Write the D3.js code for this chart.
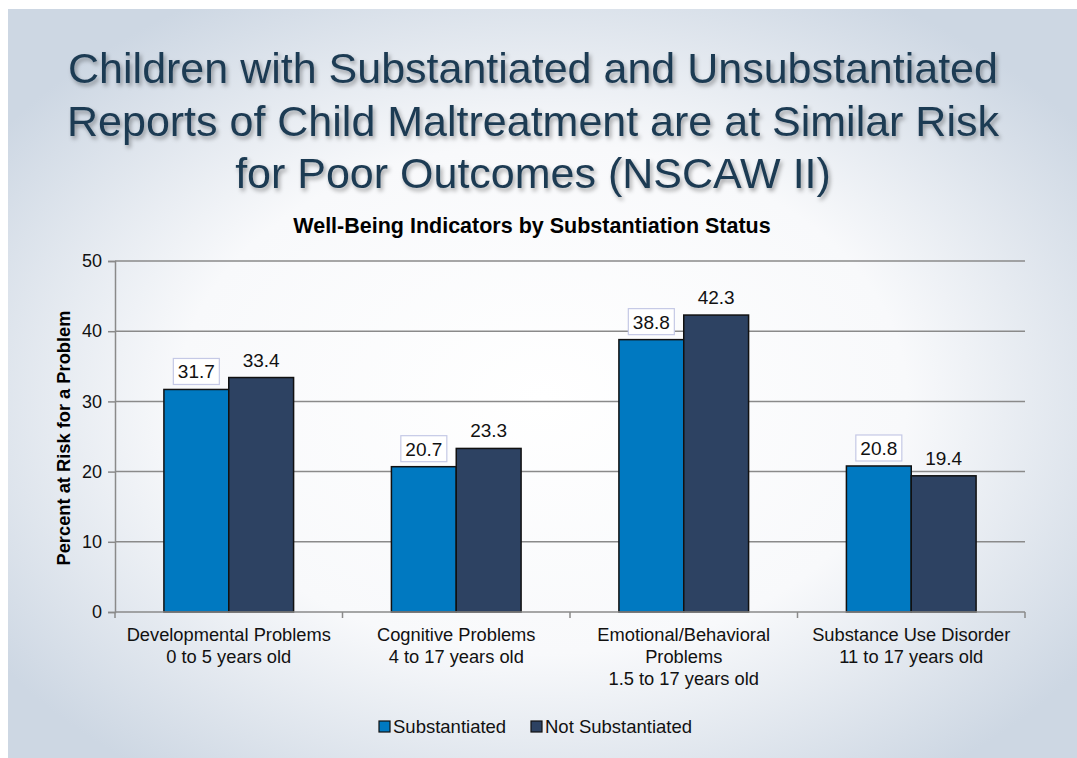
<!DOCTYPE html>
<html><head><meta charset="utf-8">
<script src="https://cdn.jsdelivr.net/npm/d3@7"></script>
<style>html,body{margin:0;padding:0;background:#fff;}svg{display:block;}</style>
</head><body>
<svg id="chart" width="1077" height="758"></svg>
<script>
const titleLines = ["Children with Substantiated and Unsubstantiated","Reports of Child Maltreatment are at Similar Risk","for Poor Outcomes (NSCAW II)"];
const chartTitle = "Well-Being Indicators by Substantiation Status";
const yLabel = "Percent at Risk for a Problem";
const categories = ["Developmental Problems|0 to 5 years old","Cognitive Problems|4 to 17 years old","Emotional/Behavioral|Problems|1.5 to 17 years old","Substance Use Disorder|11 to 17 years old"];
const seriesNames = ["Substantiated","Not Substantiated"];
const substantiated = [31.7, 20.7, 38.8, 20.8];
const notSubstantiated = [33.4, 23.3, 42.3, 19.4];
const yTicks = [0,10,20,30,40,50];
const colors = ["#0079c1","#2d4262"];
const FF = "'Liberation Sans', Arial, sans-serif";

const svg = d3.select("#chart");
const defs = svg.append("defs");
const rg = defs.append("radialGradient").attr("id","bg").attr("cx","50%").attr("cy","52%").attr("r","62%");
rg.append("stop").attr("offset","0%").attr("stop-color","#ffffff");
rg.append("stop").attr("offset","55%").attr("stop-color","#f8f9fb");
rg.append("stop").attr("offset","100%").attr("stop-color","#cdd7e3");
const f = defs.append("filter").attr("id","sh").attr("x","-5%").attr("y","-20%").attr("width","110%").attr("height","150%");
f.append("feDropShadow").attr("dx",2).attr("dy",3).attr("stdDeviation",2).attr("flood-color","#000").attr("flood-opacity",0.35);

svg.append("rect").attr("x",8).attr("y",9).attr("width",1069).attr("height",749).attr("fill","url(#bg)");

// main title
svg.append("g").attr("filter","url(#sh)").selectAll("text").data(titleLines).join("text")
  .attr("x",533).attr("y",(d,i)=>83+i*52.5).attr("text-anchor","middle")
  .attr("font-family",FF).attr("font-size",43)
  .attr("fill","#1d3a52").text(d=>d);

svg.append("text").attr("x",532).attr("y",233).attr("text-anchor","middle")
  .attr("font-family",FF).attr("font-size",21.5).attr("font-weight","bold")
  .attr("fill","#000").text(chartTitle);

const L=115, R=1025, T=261, B=612;
const x = d3.scaleBand().domain(categories).range([L,R]).paddingInner(0.43).paddingOuter(0.215);
const xs = d3.scaleBand().domain(seriesNames).range([0,x.bandwidth()]);
const y = d3.scaleLinear().domain([0,50]).range([B,T]);

// gridlines
svg.append("g").selectAll("line").data(yTicks.filter(d=>d>0)).join("line")
  .attr("x1",L).attr("x2",R).attr("y1",d=>y(d)).attr("y2",d=>y(d))
  .attr("stroke","#8a8a8a").attr("stroke-width",1.5);

// y axis
const ya = svg.append("g").attr("transform",`translate(${L},0)`).call(d3.axisLeft(y).tickValues(yTicks).tickSize(7).tickPadding(6));
ya.select(".domain").attr("stroke","#8a8a8a").attr("stroke-width",1.5);
ya.selectAll(".tick line").attr("stroke","#8a8a8a").attr("stroke-width",1.5);
ya.selectAll("text").attr("font-family",FF).attr("font-size",18).attr("fill","#111");

// bars
const data = categories.map((c,i)=>({c, vals:[substantiated[i], notSubstantiated[i]]}));
const groups = svg.append("g").selectAll("g").data(data).join("g").attr("transform",d=>`translate(${x(d.c)},0)`);
groups.selectAll("rect").data(d=>d.vals.map((v,j)=>({v,s:seriesNames[j],j}))).join("rect")
  .attr("x",d=>xs(d.s)).attr("width",xs.bandwidth()).attr("y",d=>y(d.v)).attr("height",d=>B-y(d.v))
  .attr("fill",d=>colors[d.j]).attr("stroke","#111").attr("stroke-width",1.5);

// x axis
const bounds = [0,1,2,3,4];
const xa = svg.append("g");
xa.append("line").attr("x1",L).attr("x2",R).attr("y1",B).attr("y2",B).attr("stroke","#8a8a8a").attr("stroke-width",1.5);
xa.selectAll("line.t").data(bounds).join("line").attr("class","t")
  .attr("x1",d=>L+d*(R-L)/4).attr("x2",d=>L+d*(R-L)/4).attr("y1",B).attr("y2",B+6)
  .attr("stroke","#8a8a8a").attr("stroke-width",1.5);

// data labels
groups.selectAll("g.lbl").data(d=>d.vals.map((v,j)=>({v,s:seriesNames[j],j}))).join("g").attr("class","lbl")
  .each(function(d){
    const g=d3.select(this);
    const cx = xs(d.s)+xs.bandwidth()/2;
    const by = y(d.v)-11;
    if(d.j===0){
      g.append("rect").attr("x",cx-23).attr("y",by-20).attr("width",46).attr("height",26)
       .attr("fill","#fff").attr("stroke","#c5c9e6").attr("stroke-width",1.2);
    }
    g.append("text").attr("x",cx).attr("y",by).attr("text-anchor","middle")
     .attr("font-family",FF).attr("font-size",19).attr("fill","#111")
     .text(d.v.toFixed(1));
  });

// category labels
svg.append("g").selectAll("text").data(categories).join("text")
  .attr("x",d=>x(d)+x.bandwidth()/2).attr("y",641).attr("text-anchor","middle")
  .attr("font-family",FF).attr("font-size",18.3).attr("fill","#111")
  .each(function(d){
    const t=d3.select(this);
    d.split("|").forEach((s,i)=>t.append("tspan").attr("x",t.attr("x")).attr("dy",i?22:0).text(s));
  });

// y label
svg.append("text").attr("transform","translate(70,438) rotate(-90)").attr("text-anchor","middle")
  .attr("font-family",FF).attr("font-size",18.3).attr("font-weight","bold")
  .attr("fill","#000").text(yLabel);

// legend
const lg = svg.append("g");
const legX = [379, 531];
seriesNames.forEach((s,i)=>{
  lg.append("rect").attr("x",legX[i]).attr("y",721).attr("width",11).attr("height",11)
    .attr("fill",colors[i]).attr("stroke","#111").attr("stroke-width",1.2);
  lg.append("text").attr("x",legX[i]+14).attr("y",733)
    .attr("font-family",FF).attr("font-size",18.5).attr("fill","#111").text(s);
});
</script>
</body></html>
